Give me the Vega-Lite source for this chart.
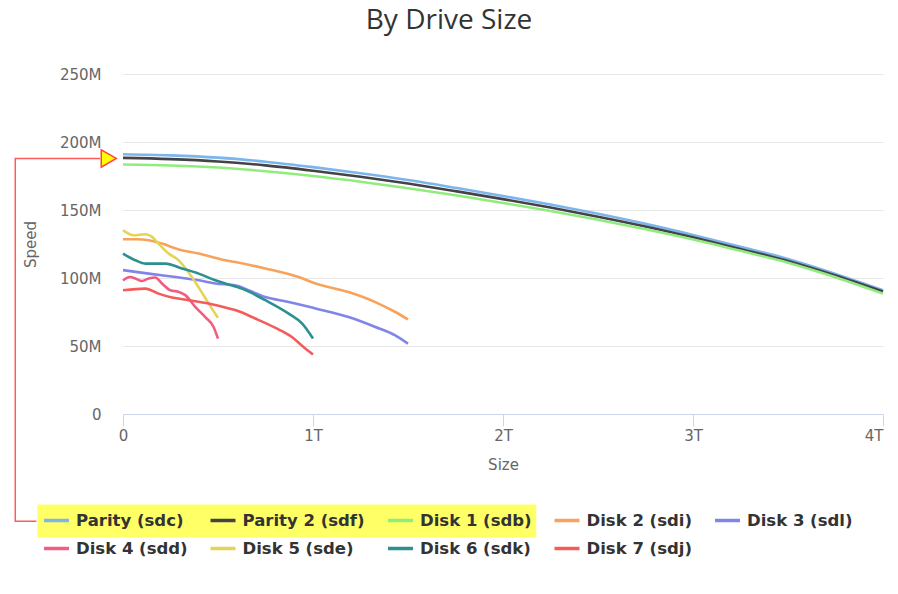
{
  "$schema": "https://vega.github.io/schema/vega-lite/v6.json",
  "width": 760,
  "height": 340,
  "autosize": {"type": "none"},
  "padding": {"left": 123, "top": 74, "right": 15, "bottom": 180},
  "background": "white",
  "title": {"text": "By Drive Size", "anchor": "middle", "frame": "group", "dx": -54, "offset": 32, "font": "Open Sans", "fontSize": 28, "fontWeight": "normal", "color": "#333333"},
  "datasets": {
    "drives": [
      {"drive": "Parity (sdc)", "size": 0, "speed": 191},
      {"drive": "Parity (sdc)", "size": 0.25, "speed": 190.2},
      {"drive": "Parity (sdc)", "size": 0.5, "speed": 188.5},
      {"drive": "Parity (sdc)", "size": 0.75, "speed": 185.5},
      {"drive": "Parity (sdc)", "size": 1, "speed": 181.5},
      {"drive": "Parity (sdc)", "size": 1.25, "speed": 177},
      {"drive": "Parity (sdc)", "size": 1.5, "speed": 172},
      {"drive": "Parity (sdc)", "size": 1.75, "speed": 166.3},
      {"drive": "Parity (sdc)", "size": 2, "speed": 160.3},
      {"drive": "Parity (sdc)", "size": 2.25, "speed": 154},
      {"drive": "Parity (sdc)", "size": 2.5, "speed": 147.2},
      {"drive": "Parity (sdc)", "size": 2.75, "speed": 139.8},
      {"drive": "Parity (sdc)", "size": 3, "speed": 131.6},
      {"drive": "Parity (sdc)", "size": 3.25, "speed": 123},
      {"drive": "Parity (sdc)", "size": 3.5, "speed": 114},
      {"drive": "Parity (sdc)", "size": 3.75, "speed": 103},
      {"drive": "Parity (sdc)", "size": 4, "speed": 91},
      {"drive": "Parity 2 (sdf)", "size": 0, "speed": 188.3},
      {"drive": "Parity 2 (sdf)", "size": 0.25, "speed": 187.4},
      {"drive": "Parity 2 (sdf)", "size": 0.5, "speed": 185.7},
      {"drive": "Parity 2 (sdf)", "size": 0.75, "speed": 182.8},
      {"drive": "Parity 2 (sdf)", "size": 1, "speed": 178.9},
      {"drive": "Parity 2 (sdf)", "size": 1.25, "speed": 174.5},
      {"drive": "Parity 2 (sdf)", "size": 1.5, "speed": 169.5},
      {"drive": "Parity 2 (sdf)", "size": 1.75, "speed": 163.9},
      {"drive": "Parity 2 (sdf)", "size": 2, "speed": 158},
      {"drive": "Parity 2 (sdf)", "size": 2.25, "speed": 151.8},
      {"drive": "Parity 2 (sdf)", "size": 2.5, "speed": 145.1},
      {"drive": "Parity 2 (sdf)", "size": 2.75, "speed": 137.9},
      {"drive": "Parity 2 (sdf)", "size": 3, "speed": 129.9},
      {"drive": "Parity 2 (sdf)", "size": 3.25, "speed": 121.4},
      {"drive": "Parity 2 (sdf)", "size": 3.5, "speed": 112.5},
      {"drive": "Parity 2 (sdf)", "size": 3.75, "speed": 101.8},
      {"drive": "Parity 2 (sdf)", "size": 4, "speed": 90},
      {"drive": "Disk 1 (sdb)", "size": 0, "speed": 183.5},
      {"drive": "Disk 1 (sdb)", "size": 0.25, "speed": 182.7},
      {"drive": "Disk 1 (sdb)", "size": 0.5, "speed": 181.2},
      {"drive": "Disk 1 (sdb)", "size": 0.75, "speed": 178.5},
      {"drive": "Disk 1 (sdb)", "size": 1, "speed": 175},
      {"drive": "Disk 1 (sdb)", "size": 1.25, "speed": 170.8},
      {"drive": "Disk 1 (sdb)", "size": 1.5, "speed": 166},
      {"drive": "Disk 1 (sdb)", "size": 1.75, "speed": 160.8},
      {"drive": "Disk 1 (sdb)", "size": 2, "speed": 155.2},
      {"drive": "Disk 1 (sdb)", "size": 2.25, "speed": 149.2},
      {"drive": "Disk 1 (sdb)", "size": 2.5, "speed": 142.8},
      {"drive": "Disk 1 (sdb)", "size": 2.75, "speed": 135.8},
      {"drive": "Disk 1 (sdb)", "size": 3, "speed": 128.3},
      {"drive": "Disk 1 (sdb)", "size": 3.25, "speed": 120},
      {"drive": "Disk 1 (sdb)", "size": 3.5, "speed": 111.3},
      {"drive": "Disk 1 (sdb)", "size": 3.75, "speed": 100.6},
      {"drive": "Disk 1 (sdb)", "size": 4, "speed": 88.5},
      {"drive": "Disk 2 (sdi)", "size": 0, "speed": 128.5},
      {"drive": "Disk 2 (sdi)", "size": 0.07, "speed": 128.5},
      {"drive": "Disk 2 (sdi)", "size": 0.135, "speed": 127.8},
      {"drive": "Disk 2 (sdi)", "size": 0.205, "speed": 125.3},
      {"drive": "Disk 2 (sdi)", "size": 0.293, "speed": 121},
      {"drive": "Disk 2 (sdi)", "size": 0.398, "speed": 118},
      {"drive": "Disk 2 (sdi)", "size": 0.538, "speed": 113},
      {"drive": "Disk 2 (sdi)", "size": 0.59, "speed": 111.8},
      {"drive": "Disk 2 (sdi)", "size": 0.749, "speed": 107},
      {"drive": "Disk 2 (sdi)", "size": 0.924, "speed": 100.7},
      {"drive": "Disk 2 (sdi)", "size": 1.013, "speed": 96},
      {"drive": "Disk 2 (sdi)", "size": 1.187, "speed": 89.7},
      {"drive": "Disk 2 (sdi)", "size": 1.328, "speed": 82.3},
      {"drive": "Disk 2 (sdi)", "size": 1.433, "speed": 75},
      {"drive": "Disk 2 (sdi)", "size": 1.5, "speed": 69.5},
      {"drive": "Disk 3 (sdl)", "size": 0, "speed": 105.8},
      {"drive": "Disk 3 (sdl)", "size": 0.135, "speed": 103.2},
      {"drive": "Disk 3 (sdl)", "size": 0.276, "speed": 100.7},
      {"drive": "Disk 3 (sdl)", "size": 0.398, "speed": 98.3},
      {"drive": "Disk 3 (sdl)", "size": 0.486, "speed": 96},
      {"drive": "Disk 3 (sdl)", "size": 0.59, "speed": 94.7},
      {"drive": "Disk 3 (sdl)", "size": 0.66, "speed": 91},
      {"drive": "Disk 3 (sdl)", "size": 0.749, "speed": 86},
      {"drive": "Disk 3 (sdl)", "size": 0.872, "speed": 82.4},
      {"drive": "Disk 3 (sdl)", "size": 1.013, "speed": 77.6},
      {"drive": "Disk 3 (sdl)", "size": 1.187, "speed": 71.3},
      {"drive": "Disk 3 (sdl)", "size": 1.328, "speed": 64},
      {"drive": "Disk 3 (sdl)", "size": 1.433, "speed": 57.8},
      {"drive": "Disk 3 (sdl)", "size": 1.5, "speed": 51.7},
      {"drive": "Disk 4 (sdd)", "size": 0, "speed": 98.3},
      {"drive": "Disk 4 (sdd)", "size": 0.038, "speed": 100.7},
      {"drive": "Disk 4 (sdd)", "size": 0.065, "speed": 99.6},
      {"drive": "Disk 4 (sdd)", "size": 0.1, "speed": 97.8},
      {"drive": "Disk 4 (sdd)", "size": 0.135, "speed": 99.6},
      {"drive": "Disk 4 (sdd)", "size": 0.17, "speed": 100.4},
      {"drive": "Disk 4 (sdd)", "size": 0.205, "speed": 96},
      {"drive": "Disk 4 (sdd)", "size": 0.249, "speed": 91},
      {"drive": "Disk 4 (sdd)", "size": 0.293, "speed": 89.8},
      {"drive": "Disk 4 (sdd)", "size": 0.328, "speed": 87.4},
      {"drive": "Disk 4 (sdd)", "size": 0.38, "speed": 78.8},
      {"drive": "Disk 4 (sdd)", "size": 0.433, "speed": 71.3},
      {"drive": "Disk 4 (sdd)", "size": 0.477, "speed": 64},
      {"drive": "Disk 4 (sdd)", "size": 0.5, "speed": 55.4},
      {"drive": "Disk 5 (sde)", "size": 0, "speed": 135.1},
      {"drive": "Disk 5 (sde)", "size": 0.056, "speed": 131.4},
      {"drive": "Disk 5 (sde)", "size": 0.117, "speed": 132.2},
      {"drive": "Disk 5 (sde)", "size": 0.153, "speed": 130.2},
      {"drive": "Disk 5 (sde)", "size": 0.187, "speed": 125.3},
      {"drive": "Disk 5 (sde)", "size": 0.24, "speed": 118},
      {"drive": "Disk 5 (sde)", "size": 0.293, "speed": 113},
      {"drive": "Disk 5 (sde)", "size": 0.337, "speed": 105.7},
      {"drive": "Disk 5 (sde)", "size": 0.38, "speed": 97},
      {"drive": "Disk 5 (sde)", "size": 0.424, "speed": 87.3},
      {"drive": "Disk 5 (sde)", "size": 0.468, "speed": 77.5},
      {"drive": "Disk 5 (sde)", "size": 0.5, "speed": 70.8},
      {"drive": "Disk 6 (sdk)", "size": 0, "speed": 118},
      {"drive": "Disk 6 (sdk)", "size": 0.065, "speed": 113},
      {"drive": "Disk 6 (sdk)", "size": 0.117, "speed": 110.6},
      {"drive": "Disk 6 (sdk)", "size": 0.223, "speed": 110.6},
      {"drive": "Disk 6 (sdk)", "size": 0.31, "speed": 107},
      {"drive": "Disk 6 (sdk)", "size": 0.398, "speed": 103.2},
      {"drive": "Disk 6 (sdk)", "size": 0.486, "speed": 98.3},
      {"drive": "Disk 6 (sdk)", "size": 0.538, "speed": 96},
      {"drive": "Disk 6 (sdk)", "size": 0.626, "speed": 92.2},
      {"drive": "Disk 6 (sdk)", "size": 0.749, "speed": 83.7},
      {"drive": "Disk 6 (sdk)", "size": 0.872, "speed": 73.8},
      {"drive": "Disk 6 (sdk)", "size": 0.942, "speed": 66.6},
      {"drive": "Disk 6 (sdk)", "size": 1, "speed": 55.5},
      {"drive": "Disk 7 (sdj)", "size": 0, "speed": 91},
      {"drive": "Disk 7 (sdj)", "size": 0.117, "speed": 92.2},
      {"drive": "Disk 7 (sdj)", "size": 0.187, "speed": 88.5},
      {"drive": "Disk 7 (sdj)", "size": 0.258, "speed": 85.6},
      {"drive": "Disk 7 (sdj)", "size": 0.345, "speed": 83.7},
      {"drive": "Disk 7 (sdj)", "size": 0.451, "speed": 81.2},
      {"drive": "Disk 7 (sdj)", "size": 0.538, "speed": 78.3},
      {"drive": "Disk 7 (sdj)", "size": 0.59, "speed": 76.4},
      {"drive": "Disk 7 (sdj)", "size": 0.696, "speed": 70.2},
      {"drive": "Disk 7 (sdj)", "size": 0.8, "speed": 63.5},
      {"drive": "Disk 7 (sdj)", "size": 0.889, "speed": 56.6},
      {"drive": "Disk 7 (sdj)", "size": 0.95, "speed": 49.2},
      {"drive": "Disk 7 (sdj)", "size": 1, "speed": 43.7}
    ],
    "box": [
      {"size": -0.451, "size2": 2.175, "speed": -66.6, "speed2": -90.9}
    ],
    "connector": [
      {"k": 1, "size": -0.12, "speed": 187.9},
      {"k": 2, "size": -0.567, "speed": 187.9},
      {"k": 3, "size": -0.567, "speed": -78.9},
      {"k": 4, "size": -0.456, "speed": -78.9}
    ],
    "marker": [
      {"size": -0.075, "speed": 187.9}
    ]
  },
  "layer": [
    {
      "data": {"name": "drives"},
      "mark": {"type": "line", "interpolate": "monotone", "strokeWidth": 2.6},
      "encoding": {
        "x": {
          "field": "size", "type": "quantitative", "title": "Size",
          "scale": {"domain": [0, 4], "nice": false, "zero": false},
          "axis": {
            "values": [0, 1, 2, 3, 4],
            "labelExpr": "datum.value == 0 ? '0' : datum.value + 'T'",
            "grid": false,
            "domainColor": "#ccd6eb",
            "tickColor": "#ccd6eb",
            "tickSize": 12,
            "labelPadding": 2,
            "labelFlush": false,
            "labelAlign": {"condition": {"test": "datum.value == 4", "value": "right"}, "value": "center"},
            "labelFont": "DejaVu Sans",
            "labelFontSize": 15,
            "labelColor": "#666666",
            "titleFont": "DejaVu Sans",
            "titleFontSize": 15,
            "titleFontWeight": "normal",
            "titleColor": "#666666",
            "titlePadding": 14
          }
        },
        "y": {
          "field": "speed", "type": "quantitative", "title": "Speed",
          "scale": {"domain": [0, 250], "nice": false, "zero": false},
          "axis": {
            "values": [0, 50, 100, 150, 200, 250],
            "labelExpr": "datum.value == 0 ? '0' : datum.value + 'M'",
            "domain": false,
            "ticks": false,
            "grid": true,
            "gridColor": "#e6e6e6",
            "labelPadding": 22,
            "labelFont": "DejaVu Sans",
            "labelFontSize": 15,
            "labelColor": "#666666",
            "titleFont": "DejaVu Sans",
            "titleFontSize": 15,
            "titleFontWeight": "normal",
            "titleColor": "#666666",
            "titlePadding": 21
          }
        },
        "color": {
          "field": "drive", "type": "nominal",
          "scale": {
            "domain": ["Parity (sdc)", "Parity 2 (sdf)", "Disk 1 (sdb)", "Disk 2 (sdi)", "Disk 3 (sdl)", "Disk 4 (sdd)", "Disk 5 (sde)", "Disk 6 (sdk)", "Disk 7 (sdj)"],
            "range": ["#7cb5ec", "#434348", "#90ed7d", "#f7a35c", "#8085e9", "#f15c80", "#e4d354", "#2b908f", "#f45b5b"]
          },
          "legend": {
            "orient": "none",
            "legendX": -81,
            "legendY": 432,
            "columns": 5,
            "direction": "horizontal",
            "title": null,
            "symbolType": "stroke",
            "symbolSize": 625,
            "symbolStrokeWidth": 3.5,
            "labelFont": "DejaVu Sans",
            "labelFontSize": 16.5,
            "labelFontWeight": "bold",
            "labelColor": "#333333",
            "labelOffset": 5,
            "labelLimit": 300,
            "columnPadding": 15.5,
            "rowPadding": 5,
            "gridAlign": "none",
            "padding": 0
          }
        }
      }
    },
    {
      "data": {"name": "box"},
      "mark": {"type": "rect", "fill": "#ffff00", "opacity": 0.6},
      "encoding": {
        "x": {"field": "size", "type": "quantitative", "title": "Size", "scale": {"domain": [0, 4], "nice": false, "zero": false}},
        "x2": {"field": "size2"},
        "y": {"field": "speed", "type": "quantitative", "title": "Speed", "scale": {"domain": [0, 250], "nice": false, "zero": false}},
        "y2": {"field": "speed2"}
      }
    },
    {
      "data": {"name": "connector"},
      "mark": {"type": "line", "stroke": "#ff5a5a", "strokeWidth": 1.5},
      "encoding": {
        "x": {"field": "size", "type": "quantitative", "title": "Size", "scale": {"domain": [0, 4], "nice": false, "zero": false}},
        "y": {"field": "speed", "type": "quantitative", "title": "Speed", "scale": {"domain": [0, 250], "nice": false, "zero": false}},
        "order": {"field": "k", "type": "quantitative"}
      }
    },
    {
      "data": {"name": "marker"},
      "mark": {"type": "point", "shape": "triangle-right", "filled": true, "fill": "#ffff00", "stroke": "#ff4444", "strokeWidth": 1.5, "size": 300, "opacity": 1},
      "encoding": {
        "x": {"field": "size", "type": "quantitative", "title": "Size", "scale": {"domain": [0, 4], "nice": false, "zero": false}},
        "y": {"field": "speed", "type": "quantitative", "title": "Speed", "scale": {"domain": [0, 250], "nice": false, "zero": false}}
      }
    }
  ],
  "config": {"view": {"stroke": null}}
}
